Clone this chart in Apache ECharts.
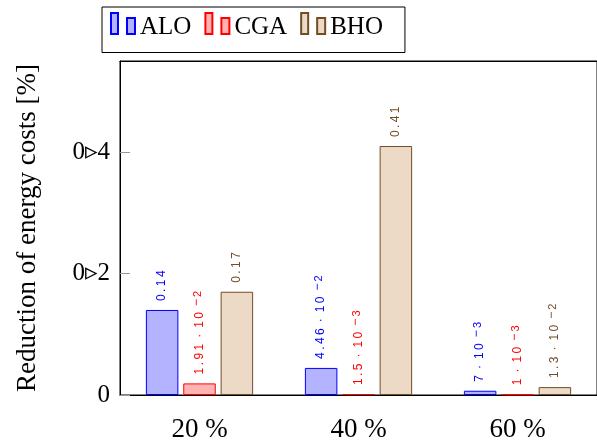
<!DOCTYPE html>
<html>
<head>
<meta charset="utf-8">
<style>
  html, body { margin: 0; padding: 0; background: #fff; }
  #chart { width: 597px; height: 443px; }
</style>
<script src="https://cdn.jsdelivr.net/npm/echarts@6/dist/echarts.min.js"></script>
</head>
<body>
<div id="chart"></div>
<script>
// Scenario categories (x axis)
const categories = ['20 %', '40 %', '60 %'];

// Reduction of energy costs per algorithm
const seriesNames = ['ALO', 'CGA', 'BHO'];
const alo = [0.14, 0.0446, 0.007];
const cga = [0.0191, 0.0015, 0.001];
const bho = [0.17, 0.41, 0.013];

// Y axis ticks and the labels printed next to them
const yTickValues = [0, 0.2, 0.4];
const yTickLabels = ['0', '0\u25B92', '0\u25B94'];

const serifFont = '"Liberation Serif", "DejaVu Serif", serif';
const sansFont = '"Liberation Sans", "DejaVu Sans", sans-serif';

const palette = {
  ALO: { line: '#0000ff', fill: '#b3b3ff' },
  CGA: { line: '#ff0000', fill: '#ffb3b3' },
  BHO: { line: '#734d26', fill: '#ecd9c6' }
};

// Letter-spaced text, as in the value labels above the bars
function spread(s) {
  return s.split('').join('\u2009');
}

// Value label: two decimals for large values, m · 10^e otherwise
function valueLabel(v) {
  if (v >= 0.1) {
    return '{t|' + spread(v.toFixed(2)) + '}';
  }
  const e = Math.floor(Math.log10(v));
  const m = Math.round(v / Math.pow(10, e) * 100) / 100;
  return '{t|' + spread(String(m)) + '\u2002\u00B7\u2002' + spread('10') + '}' +
         '{m|\u2002\u2212}{e|\u2009' + (-e) + '}';
}

function makeSeries(name, values) {
  const c = palette[name];
  return {
    name: name,
    type: 'bar',
    data: values,
    barWidth: 32.5,
    barGap: '15%',
    itemStyle: { color: c.fill, borderColor: c.line, borderWidth: 1 },
    label: {
      show: true,
      position: 'top',
      distance: 9,
      rotate: 90,
      align: 'left',
      verticalAlign: 'middle',
      color: c.line,
      formatter: p => valueLabel(p.value),
      rich: {
        t: { fontFamily: sansFont, fontSize: 12, color: c.line },
        m: { fontFamily: sansFont, fontSize: 12, color: c.line, padding: [0, 0, 6, 0] },
        e: { fontFamily: sansFont, fontSize: 11, color: c.line, padding: [0, 0, 4, 0] }
      }
    }
  };
}

const legendIcon = 'path://M0,0H7V21H0Z M16,5H24V21H16Z';

const chart = echarts.init(document.getElementById('chart'), null, { renderer: 'canvas' });

chart.setOption({
  animation: false,
  backgroundColor: '#fff',
  grid: {
    left: 120, top: 61, width: 486, height: 334,
    show: true, borderColor: '#000', borderWidth: 1, backgroundColor: 'transparent'
  },
  legend: {
    data: seriesNames,
    left: 102, top: 7,
    orient: 'horizontal',
    backgroundColor: '#fff',
    borderColor: '#000', borderWidth: 1, borderRadius: 0,
    padding: [5, 22, 13, 8],
    itemGap: 13,
    itemWidth: 24, itemHeight: 21,
    icon: legendIcon,
    formatter: name => '{n|' + name + '}',
    textStyle: {
      fontFamily: serifFont, fontSize: 25, color: '#000',
      rich: { n: { fontFamily: serifFont, fontSize: 25, color: '#000', padding: [7, 0, 0, 0] } }
    }
  },
  xAxis: [
    {
      type: 'category', data: categories, position: 'bottom',
      axisLine: { lineStyle: { color: '#000', width: 1 } },
      axisTick: { alignWithLabel: true, length: 10, lineStyle: { color: '#999' } },
      axisLabel: { margin: 21, fontFamily: serifFont, fontSize: 27, color: '#000' }
    },
    {
      type: 'category', data: categories, position: 'top',
      axisLine: { lineStyle: { color: '#000', width: 1 } },
      axisTick: { alignWithLabel: true, length: 11, lineStyle: { color: '#999' } },
      axisLabel: { show: false }
    }
  ],
  yAxis: {
    type: 'value', min: 0, max: 0.55, interval: 0.2,
    name: 'Reduction of energy costs [%]',
    nameLocation: 'middle', nameRotate: 90, nameGap: 79,
    nameTextStyle: { fontFamily: serifFont, fontSize: 27, color: '#000' },
    axisLine: { show: true, lineStyle: { color: '#000', width: 1 } },
    axisTick: { show: true, inside: true, length: 10, lineStyle: { color: '#999' } },
    splitLine: { show: false },
    axisLabel: {
      margin: 10, fontFamily: serifFont, fontSize: 25, color: '#000',
      showMaxLabel: false,
      formatter: v => {
        const i = yTickValues.findIndex(t => Math.abs(t - v) < 1e-9);
        return i >= 0 ? yTickLabels[i] : '';
      }
    }
  },
  series: [
    makeSeries('ALO', alo),
    makeSeries('CGA', cga),
    makeSeries('BHO', bho)
  ]
});
</script>
</body>
</html>
